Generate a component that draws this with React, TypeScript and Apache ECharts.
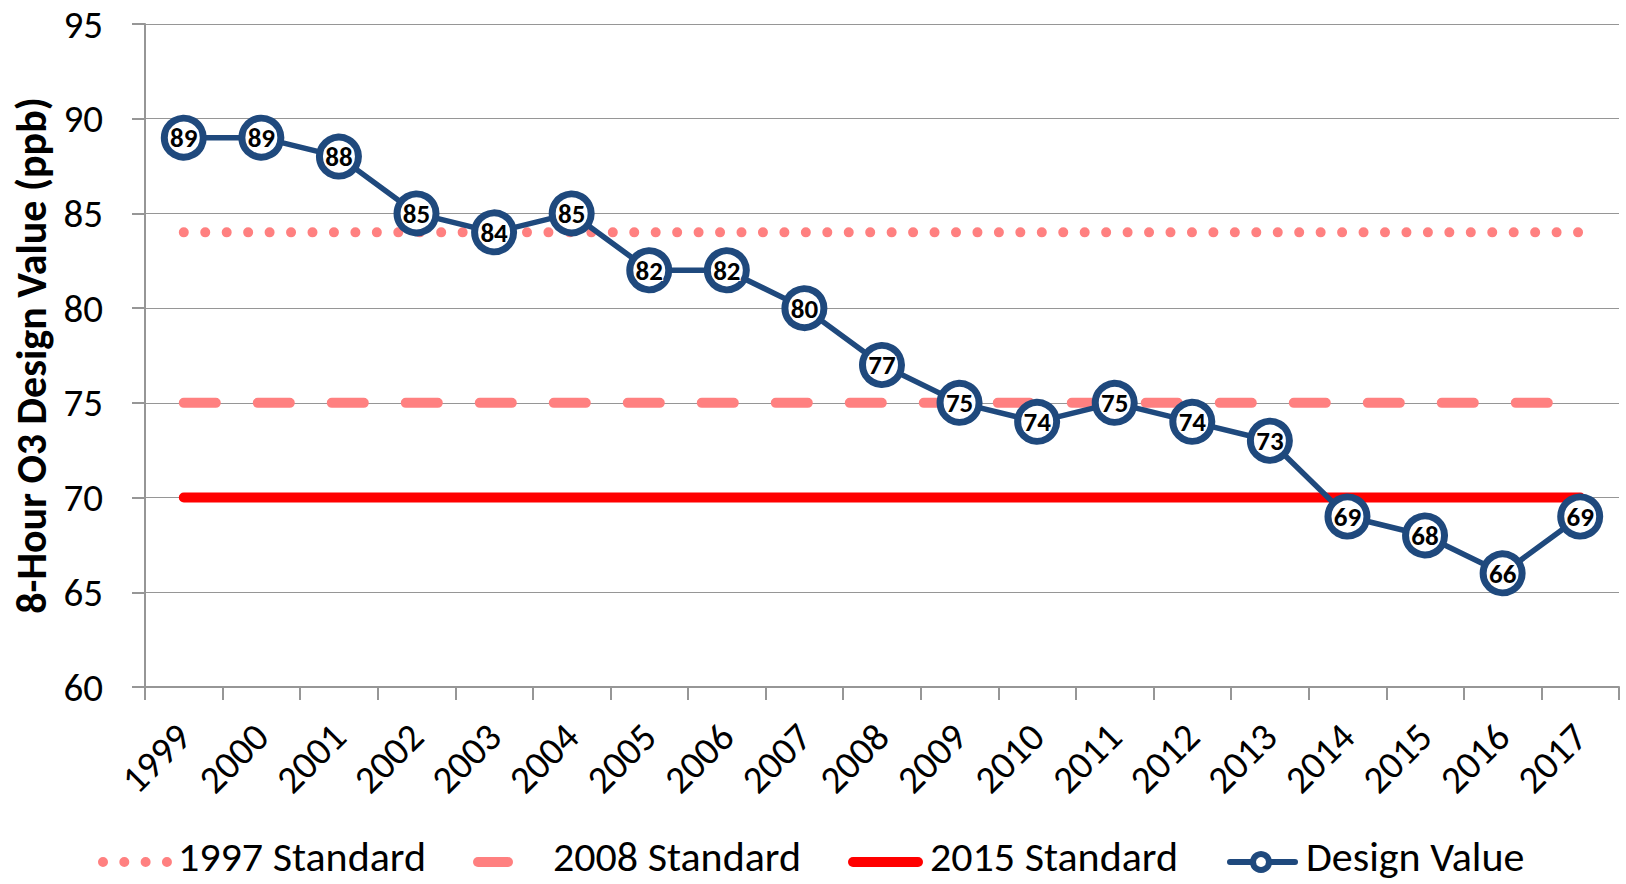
import React, { useEffect, useRef } from "react";
import * as echarts from "echarts";

const years = ["1999","2000","2001","2002","2003","2004","2005","2006","2007","2008","2009","2010","2011","2012","2013","2014","2015","2016","2017"];
const designValue = [89, 89, 88, 85, 84, 85, 82, 82, 80, 77, 75, 74, 75, 74, 73, 69, 68, 66, 69];
const std1997 = [84, 84, 84, 84, 84, 84, 84, 84, 84, 84, 84, 84, 84, 84, 84, 84, 84, 84, 84];
const std2008 = [75, 75, 75, 75, 75, 75, 75, 75, 75, 75, 75, 75, 75, 75, 75, 75, 75, 75, 75];
const std2015 = [70, 70, 70, 70, 70, 70, 70, 70, 70, 70, 70, 70, 70, 70, 70, 70, 70, 70, 70];
const seriesNames = ["1997 Standard", "2008 Standard", "2015 Standard", "Design Value"];

const FONT = "Carlito, Lato, sans-serif";
const NAVY = "#1F497D";
const PINK = "#FF8080";
const RED = "#FF0000";
const GRAY = "#969696";

export default function App() {
  const ref = useRef<HTMLDivElement>(null);
  useEffect(() => {
    document.body.style.margin = "0";
    const chart = echarts.init(ref.current!, null, { renderer: "svg" });
    const legendY = 856;
    const iconY = 862;
    const legendFont = { fontFamily: FONT, fontSize: 42, lineHeight: 42, fill: "#000" };
    chart.setOption({
      animation: false,
      backgroundColor: "#fff",
      grid: { left: 145, top: 24, right: 7, bottom: 197, containLabel: false },
      xAxis: {
        type: "category",
        data: years,
        boundaryGap: true,
        axisLine: { lineStyle: { color: GRAY, width: 2 } },
        axisTick: { show: true, length: 13, lineStyle: { color: GRAY, width: 2 } },
        axisLabel: { rotate: 45, margin: 43, color: "#000", fontFamily: FONT, fontSize: 39, interval: 0 },
      },
      yAxis: {
        type: "value",
        min: 60,
        max: 95,
        interval: 5,
        name: "8-Hour O3 Design Value (ppb)",
        nameLocation: "middle",
        nameGap: 92,
        nameTextStyle: { fontFamily: FONT, fontSize: 42, fontWeight: "bold", color: "#000" },
        axisLine: { show: true, lineStyle: { color: GRAY, width: 2 } },
        axisTick: { show: true, length: 13, lineStyle: { color: GRAY, width: 2 } },
        axisLabel: { margin: 42, color: "#000", fontFamily: FONT, fontSize: 39 },
        splitLine: { show: true, lineStyle: { color: GRAY, width: 1.2 } },
      },
      series: [
        {
          name: seriesNames[0], type: "line", data: std1997, symbol: "none", z: 2,
          lineStyle: { color: PINK, width: 10, type: [0.01, 21.44], cap: "round" },
        },
        {
          name: seriesNames[1], type: "line", data: std2008, symbol: "none", z: 2,
          lineStyle: { color: PINK, width: 10, type: [32, 42], cap: "round" },
        },
        {
          name: seriesNames[2], type: "line", data: std2015, symbol: "none", z: 2,
          lineStyle: { color: RED, width: 10, cap: "round" },
        },
        {
          name: seriesNames[3], type: "line", data: designValue, z: 5,
          symbol: "circle", symbolSize: 39, showAllSymbol: true,
          itemStyle: { color: "#fff", borderColor: NAVY, borderWidth: 7 },
          lineStyle: { color: NAVY, width: 5.5 },
          label: {
            show: true, position: "inside", color: "#000", fontFamily: FONT,
            fontWeight: "bold", fontSize: 27, textBorderColor: "#fff", textBorderWidth: 2,
          },
        },
      ],
      graphic: [
        { type: "line", shape: { x1: 103, y1: iconY, x2: 167, y2: iconY }, style: { stroke: PINK, lineWidth: 10, lineCap: "round", lineDash: [0.01, 21.3] } },
        { type: "text", x: 178, y: legendY, style: { ...legendFont, text: seriesNames[0], verticalAlign: "middle" } },
        { type: "line", shape: { x1: 478, y1: iconY, x2: 508, y2: iconY }, style: { stroke: PINK, lineWidth: 10, lineCap: "round" } },
        { type: "text", x: 553, y: legendY, style: { ...legendFont, text: seriesNames[1], verticalAlign: "middle" } },
        { type: "line", shape: { x1: 853, y1: iconY, x2: 918, y2: iconY }, style: { stroke: RED, lineWidth: 10, lineCap: "round" } },
        { type: "text", x: 930, y: legendY, style: { ...legendFont, text: seriesNames[2], verticalAlign: "middle" } },
        { type: "line", shape: { x1: 1230, y1: iconY, x2: 1295, y2: iconY }, style: { stroke: NAVY, lineWidth: 6, lineCap: "round" } },
        { type: "circle", shape: { cx: 1261, cy: iconY, r: 8 }, style: { fill: "#fff", stroke: NAVY, lineWidth: 6 } },
        { type: "text", x: 1306, y: legendY, style: { ...legendFont, text: seriesNames[3], verticalAlign: "middle" } },
      ],
    });
    return () => chart.dispose();
  }, []);
  return <div ref={ref} style={{ position: "fixed", left: 0, top: 0, width: 1626, height: 884 }} />;
}
